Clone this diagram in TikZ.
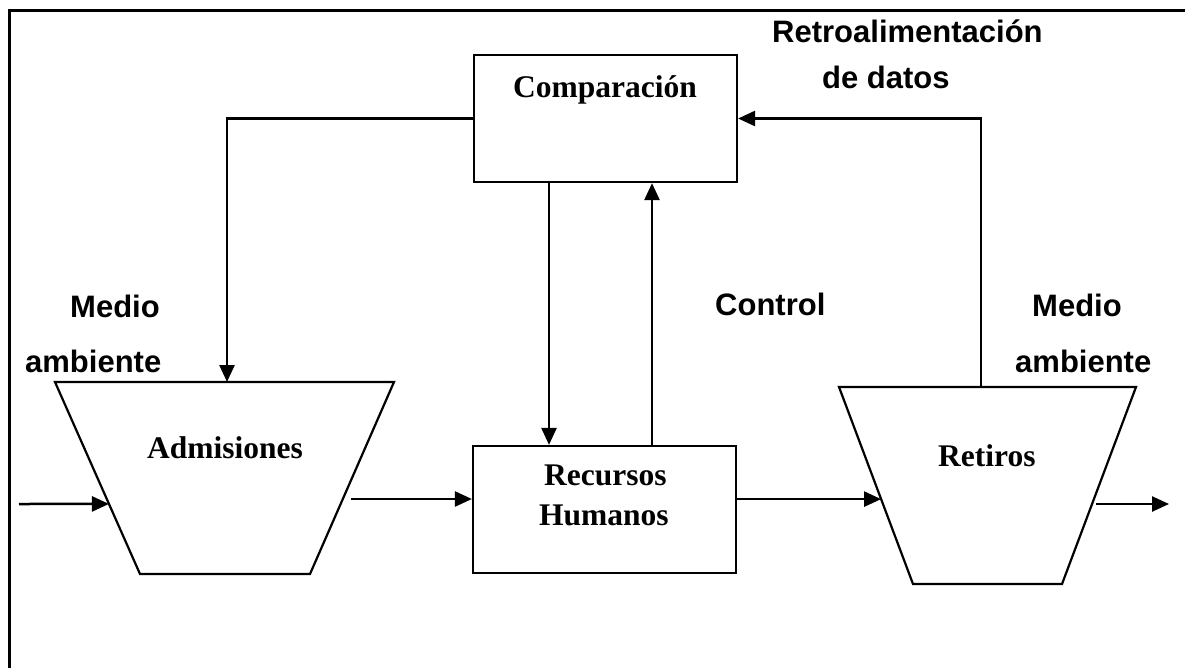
\documentclass[tikz,border=0pt]{standalone}
\usepackage{fontspec}
\setmainfont{Liberation Serif}
\newfontfamily\arialf{Liberation Sans}
\usetikzlibrary{arrows.meta,calc}
\begin{document}
\begin{tikzpicture}[x=1pt,y=-1pt,
  shape line/.style={draw=black,line width=2.2pt,line join=miter},
  arr/.style={line width=2.5pt,-{Triangle[length=17pt,width=15pt]}},
  sanslab/.style={inner sep=0pt,anchor=base west,font=\arialf\fontsize{31}{36}\selectfont\bfseries},
  seriflab/.style={inner sep=0pt,anchor=base west,font=\fontsize{31.5}{36}\selectfont\bfseries},
  box/.style={shape line,rectangle,minimum width=263pt,minimum height=127pt,inner sep=0pt}
]
\useasboundingbox (0,0) rectangle (1185,667);
\clip (0,0) rectangle (1185,667);
\fill[white] (0,0) rectangle (1185,667);
% outer frame
\draw[line width=3pt] (9,10) rectangle (1195,680);

% boxes
\node[box] (comp) at (605.5,118.5) {};
\node[box] (rh) at (604.5,509.5) {};
\node[seriflab] (tcomp) at (513,97) {Comparación};
\node[seriflab] (trec) at (544,485) {Recursos};
\node[seriflab] (thum) at (539,525) {Humanos};

% trapezoids
\coordinate (atl) at (55,382); \coordinate (atr) at (394,382);
\coordinate (abr) at (310,574); \coordinate (abl) at (140,574);
\draw[shape line] (atl) -- (atr) -- (abr) -- (abl) -- cycle;
\node[seriflab] (tadm) at (147,458) {Admisiones};

\coordinate (rtl) at (839,387); \coordinate (rtr) at (1136,387);
\coordinate (rbr) at (1062,584); \coordinate (rbl) at (913,584);
\draw[shape line] (rtl) -- (rtr) -- (rbr) -- (rbl) -- cycle;
\node[seriflab] (tret) at (938,466) {Retiros};

% connector end points
\coordinate (inL) at (19,504);
\coordinate (admIn) at ($(atl)!0.635!(abl)$);
\coordinate (admOut) at (351,499);
\coordinate (admTop) at (227,382);
\coordinate (retIn) at ($(rtl)!0.569!(rbl)$);
\coordinate (retOut) at (1096,504);
\coordinate (outR) at (1169,504);
\coordinate (retTop) at (981,387);

% connectors
\draw[arr] (inL) -- (admIn);
\draw[arr] (admOut) -- (admOut -| rh.west);
\draw[arr] (rh.east |- retIn) -- (retIn);
\draw[arr] (retOut) -- (outR);
\draw[arr] (comp.west) -| (admTop);
\draw[arr] (retTop) |- (comp.east);
\draw[arr] ([xshift=-56.5pt]comp.south) -- ([xshift=-55.5pt]rh.north);
\draw[arr] ([xshift=47.5pt]rh.north) -- ([xshift=46.5pt]comp.south);

% labels
\node[sanslab] (retro) at (772,42) {Retroalimentación};
\node[sanslab] (datos) at (822,88) {de datos};
\node[sanslab] (medioL) at (70,317) {Medio};
\node[sanslab] (ambL) at (25,372) {ambiente};
\node[sanslab] (control) at (715,315) {Control};
\node[sanslab] (medioR) at (1032,316) {Medio};
\node[sanslab] (ambR) at (1015,372) {ambiente};
\end{tikzpicture}
\end{document}
